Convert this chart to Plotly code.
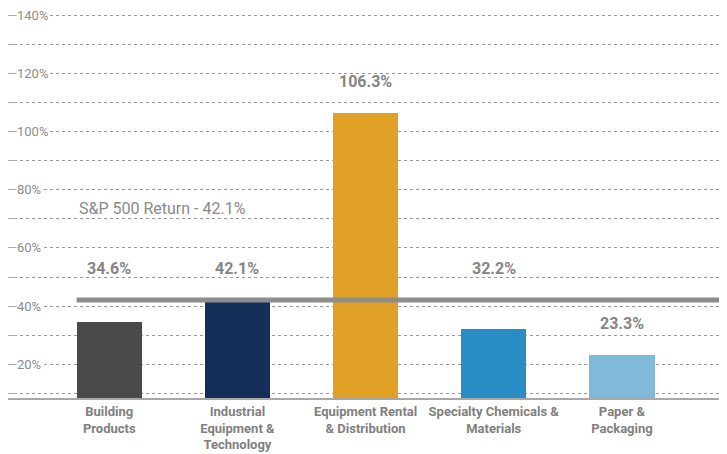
import plotly.graph_objects as go

categories = ["Building<br>Products", "Industrial<br>Equipment &<br>Technology",
              "Equipment Rental<br>& Distribution", "Specialty Chemicals &<br>Materials",
              "Paper &<br>Packaging"]
returns = [34.6, 42.1, 106.3, 32.2, 23.3]
value_labels = ["34.6%", "42.1%", "106.3%", "32.2%", "23.3%"]
bar_colors = ["#4a4a4c", "#132f57", "#e0a126", "#2a8cc4", "#80b9d9"]
sp500 = 42.1
sp500_label = "S&P 500 Return - 42.1%"
tick_vals = [20, 40, 60, 80, 100, 120, 140]
tick_text = ["20%", "40%", "60%", "80%", "100%", "120%", "140%"]

FONT = "Roboto, 'Liberation Sans', sans-serif"
x_idx = list(range(len(categories)))
bar_w = 0.51
x_range = [-0.79, 4.82]
y_range = [8.4, 142.5]

fig = go.Figure()
fig.add_trace(go.Bar(x=x_idx, y=returns, width=bar_w, marker=dict(color=bar_colors, line=dict(width=0)),
                     base=0, hoverinfo="skip", showlegend=False))
fig.add_trace(go.Scatter(x=[x_idx[0] - bar_w / 2, x_range[1]], y=[sp500, sp500], mode="lines",
                         line=dict(color="#8c8c8c", width=5), hoverinfo="skip", showlegend=False))

annotations = []
for xi, v, lab in zip(x_idx, returns, value_labels):
    # labels that would collide with the S&P line are lifted above it
    y_lab = sp500 if 0 < sp500 - v < 15 else v
    annotations.append(dict(x=xi, y=y_lab, text=lab, showarrow=False, yanchor="bottom",
                            yshift=20, font=dict(family=FONT, size=16, color="#858585", weight="bold")))
annotations.append(dict(x=x_idx[0] - bar_w / 2, y=73.7, text=sp500_label, showarrow=False, xanchor="left",
                        xshift=0, font=dict(family=FONT, size=16, color="#8a8a8a")))
for tv, tt in zip(tick_vals, tick_text):
    annotations.append(dict(xref="paper", x=0, y=tv, text=tt, showarrow=False, xanchor="left",
                            xshift=8, bgcolor="white", borderpad=0,
                            font=dict(family=FONT, size=13, color="#8c8c8c")))

fig.update_layout(
    width=719, height=446,
    margin=dict(l=0, r=0, t=0, b=56),
    plot_bgcolor="white", paper_bgcolor="white",
    bargap=0, annotations=annotations,
    xaxis=dict(range=x_range, tickvals=x_idx, ticktext=categories, showgrid=False, zeroline=False,
               showline=True, linecolor="#a8a8a8", linewidth=2, ticks="",
               tickfont=dict(family=FONT, size=13, color="#808080", weight="bold")),
    yaxis=dict(range=y_range, dtick=10, tick0=0, showgrid=True, gridcolor="#9a9a9a", griddash="3px,3px",
               gridwidth=1, zeroline=False, showline=True, linecolor="#a8a8a8", linewidth=2,
               ticks="inside", ticklen=8, tickcolor="#a8a8a8", tickwidth=1, showticklabels=False),
)

fig.write_html("out.html")
